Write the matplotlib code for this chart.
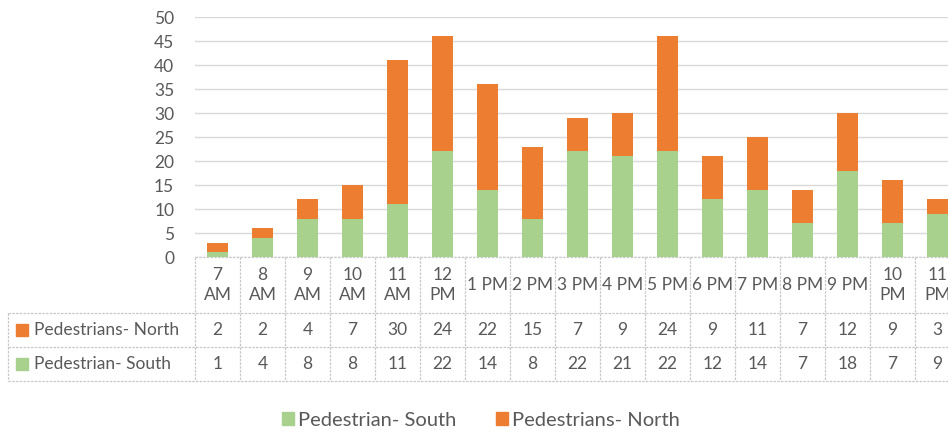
import numpy as np
import matplotlib.pyplot as plt
import matplotlib.transforms as mtransforms
from matplotlib.patches import Patch

plt.rcParams['font.family'] = ['Lato', 'DejaVu Sans']

hours = ['7\nAM', '8\nAM', '9\nAM', '10\nAM', '11\nAM', '12\nPM', '1 PM', '2 PM',
         '3 PM', '4 PM', '5 PM', '6 PM', '7 PM', '8 PM', '9 PM', '10\nPM', '11\nPM']
north = [2, 2, 4, 7, 30, 24, 22, 15, 7, 9, 24, 9, 11, 7, 12, 9, 3]
south = [1, 4, 8, 8, 11, 22, 14, 8, 22, 21, 22, 12, 14, 7, 18, 7, 9]

green = '#a9d18e'
orange = '#ed7d31'
txt = '#595959'
grid = '#d9d9d9'

W, H = 948, 433
fig = plt.figure(figsize=(W / 100, H / 100), dpi=100)
fig.patch.set_facecolor('white')
# plot area runs past the right edge of the figure, so the last column is cut
ax = fig.add_axes([195 / W, (H - 257) / H, 17 * 45 / W, 240 / H])

x = np.arange(len(hours))
ax.bar(x, south, width=0.45, color=green, zorder=3)
ax.bar(x, north, width=0.45, bottom=south, color=orange, zorder=3)

ax.set_xlim(-0.5, len(hours) - 0.5)
ax.set_ylim(0, 50)
ax.set_yticks(range(0, 51, 5))
ax.yaxis.grid(True, color=grid, lw=1, zorder=0)
ax.tick_params(axis='y', length=0, pad=15, labelsize=12.5, labelcolor=txt)
ax.set_xticks([])
for s in ax.spines.values():
    s.set_visible(False)

# data table under the plot
tr = mtransforms.blended_transform_factory(ax.transData, ax.transAxes)
y_head_top = 0.0
y_row1 = -56 / 240
y_row2 = -90 / 240
y_bot = -124 / 240
x_lab = -0.5 - 187 / 45
fs = 12.5

lkw = dict(color='#c8c8c8', lw=0.9, ls=(0, (2, 1)), transform=tr, clip_on=False)
ax.plot([-0.5, len(hours) - 0.5], [y_head_top, y_head_top], **lkw)
for yy in (y_row1, y_row2, y_bot):
    ax.plot([x_lab, len(hours) - 0.5], [yy, yy], **lkw)
for i in range(len(hours) + 1):
    ax.plot([i - 0.5, i - 0.5], [y_head_top, y_bot], **lkw)
ax.plot([x_lab, x_lab], [y_row1, y_bot], **lkw)

for i, h in enumerate(hours):
    ax.text(i, (y_head_top + y_row1) / 2, h, ha='center', va='center',
            fontsize=fs, color=txt, linespacing=1.3, transform=tr, clip_on=False)
    ax.text(i, (y_row1 + y_row2) / 2, str(north[i]), ha='center', va='center',
            fontsize=fs, color=txt, transform=tr, clip_on=False)
    ax.text(i, (y_row2 + y_bot) / 2, str(south[i]), ha='center', va='center',
            fontsize=fs, color=txt, transform=tr, clip_on=False)

rows = [('Pedestrians- North', orange, (y_row1 + y_row2) / 2),
        ('Pedestrian- South', green, (y_row2 + y_bot) / 2)]
for label, c, yy in rows:
    ax.plot([x_lab + 14 / 45], [yy], marker='s', ms=8, color=c, transform=tr, clip_on=False)
    ax.text(x_lab + 26 / 45, yy, label, ha='left', va='center', fontsize=fs,
            color=txt, transform=tr, clip_on=False)

handles = [Patch(color=green, label='Pedestrian- South'),
           Patch(color=orange, label='Pedestrians- North')]
fig.legend(handles=handles, loc='center', bbox_to_anchor=(481 / W, 1 - 420 / H),
           ncol=2, frameon=False, fontsize=14.5, labelcolor=txt,
           handlelength=0.6, handleheight=0.6, handletextpad=0.2, columnspacing=2.0)

fig.savefig('out.png', dpi=100)
